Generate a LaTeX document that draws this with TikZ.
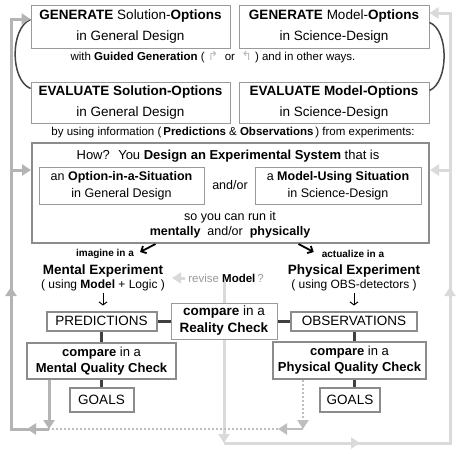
\documentclass[tikz,border=0pt]{standalone}
\usepackage{fontspec}
\setmainfont{Liberation Sans}
\newfontfamily\symfont{DejaVu Sans}
\usetikzlibrary{arrows.meta,decorations.markings}

\definecolor{boxline}{HTML}{9A9A9A}
\definecolor{thickline}{HTML}{8C8C8C}
\definecolor{joinline}{HTML}{404040}
\definecolor{loopmid}{HTML}{B4B4B4}
\definecolor{looplight}{HTML}{DADADA}
\definecolor{loopdot}{HTML}{BEBEBE}
\definecolor{curveline}{HTML}{454545}

\begin{document}
\begin{tikzpicture}[x=1pt,y=-1pt,
    txt/.style={inner sep=0pt,align=center,text=black},
    thinbox/.style={txt,draw=boxline,line width=1pt,fill=white},
    thickbox/.style={txt,draw=thickline,line width=2pt,fill=white},
    darkjoin/.style={draw=joinline,line width=3pt},
    midloop/.style={color=loopmid,line width=3pt},
    lightloop/.style={color=looplight,line width=3pt},
    dotloop/.style={color=loopdot,line width=2.5pt,dash pattern=on 2pt off 2pt},
    tri/.tip={Triangle[width=11pt,length=9pt]},
    headat/.style={postaction={decorate,decoration={markings,mark=at position #1 with {\arrow{tri}}}}},
    bigfont/.style={font=\fontsize{13.5}{21}\selectfont},
    boxfont/.style={font=\fontsize{13}{16}\selectfont},
    smallfont/.style={font=\fontsize{11.5}{14}\selectfont},
    tinyfont/.style={font=\bfseries\fontsize{10}{12}\selectfont}]

\fill[white] (0,0) rectangle (461,453);
\useasboundingbox (0,0) rectangle (461,453);

% loop points
\coordinate (lb) at (49,429);
\coordinate (ll) at (11,429);
\coordinate (lt) at (11,19);
\coordinate (lm) at (11,170);
\coordinate (rb) at (224,443);
\coordinate (rr) at (450,443);
\coordinate (rt) at (450,13);
\coordinate (rm) at (450,170);
\coordinate (db) at (303,429);
\coordinate (dm) at (278,429);

% top: generate / evaluate
\node[thinbox,bigfont,minimum width=199pt,minimum height=43pt] (gs) at (130.5,26.5)
    {\textbf{GENERATE} Solution-\textbf{Options}\\in General Design};
\node[thinbox,bigfont,minimum width=190pt,minimum height=43pt] (gm) at (334,26.5)
    {\textbf{GENERATE} Model-\textbf{Options}\\in Science-Design};
\node[txt,smallfont] (gd) at (213,57)
    {with \textbf{Guided Generation} ( {\color{gray!55}\symfont\fontsize{12.5}{14}\selectfont ↱} \ or \ {\color{gray!55}\symfont\fontsize{12.5}{14}\selectfont ↰} ) and in other ways.};
\node[thinbox,bigfont,minimum width=199pt,minimum height=41pt] (es) at (130.5,102.5)
    {\textbf{EVALUATE Solution-Options}\\in General Design};
\node[thinbox,bigfont,minimum width=190pt,minimum height=41pt] (em) at (334,102.5)
    {\textbf{EVALUATE Model-Options}\\in Science-Design};
\node[txt,smallfont] (in) at (233,133)
    {by using information (\,\textbf{Predictions} \& \textbf{Observations}\,) from experiments:};

\draw[curveline,line width=1.5pt] ([yshift=7pt]gs.west) .. controls (10,28) and (10,80) .. ([yshift=14pt]es.west);
\draw[curveline,line width=1.5pt] ([yshift=4pt]gm.east) .. controls (449,30) and (449,82) .. ([yshift=12pt]em.east);

% experimental system
\node[txt,draw=thickline,line width=2pt,minimum width=397pt,minimum height=100pt] (bx) at (230.5,193) {};
\node[txt,font=\fontsize{13}{16}\selectfont] (hw) at (228,156)
    {How? \ You \textbf{Design an Experimental System} that is};
\node[thinbox,font=\fontsize{12.5}{17}\selectfont,minimum width=165pt,minimum height=37pt] (il) at (121.5,185.5)
    {an \textbf{Option-in-a-Situation}\\in General Design};
\node[txt,font=\fontsize{12.5}{15}\selectfont] (ao) at (230,185) {and/or};
\node[thinbox,font=\fontsize{12.5}{17}\selectfont,minimum width=166pt,minimum height=37pt] (ir) at (338,185.5)
    {a \textbf{Model-Using Situation}\\in Science-Design};
\node[txt,font=\fontsize{12.5}{15}\selectfont] (rn) at (230,224.5)
    {so you can run it\\\textbf{mentally} \ and/or \ \textbf{physically}};

% mental side
\node[txt,tinyfont] (im) at (105,254) {imagine in a};
\node[txt,bigfont] (me) at (103,271) {\textbf{Mental Experiment}};
\node[txt,font=\fontsize{12}{14}\selectfont] (ml) at (103,285) {( using \textbf{Model} + Logic )};
\node[thickbox,bigfont,minimum width=110pt,minimum height=19pt] (pr) at (101.5,321) {PREDICTIONS};
\node[thickbox,boxfont,minimum width=149pt,minimum height=36pt] (mq) at (101.5,361)
    {\textbf{compare} in a\\\textbf{Mental Quality Check}};
\node[thickbox,bigfont,minimum width=64pt,minimum height=24pt] (gl) at (101.5,400) {GOALS};

% reality check
\node[thinbox,font=\fontsize{13.5}{17}\selectfont,minimum width=106pt,minimum height=36pt] (rc) at (224,321)
    {\textbf{compare} in a\\\textbf{Reality Check}};
\node[txt,smallfont,text=gray!80] (rv) at (226,278) {revise {\color{black}\textbf{Model}}\,?};

% physical side
\node[txt,tinyfont] (ac) at (353,254) {actualize in a};
\node[txt,bigfont] (pe) at (354,271) {\textbf{Physical Experiment}};
\node[txt,font=\fontsize{12}{14}\selectfont] (po) at (354,285) {( using OBS-detectors )};
\node[thickbox,bigfont,minimum width=126pt,minimum height=19pt] (ob) at (354,321) {OBSERVATIONS};
\node[thickbox,boxfont,minimum width=153pt,minimum height=37pt] (pq) at (349.5,360.5)
    {\textbf{compare} in a\\\textbf{Physical Quality Check}};
\node[thickbox,bigfont,minimum width=60pt,minimum height=24pt] (gr) at (350,400) {GOALS};

% dark joins
\draw[darkjoin] (pr.south) -- (mq.north);
\draw[darkjoin] (mq.south) -- (gl.north);
\draw[darkjoin] (pr.east) -- (rc.west);
\draw[darkjoin] (rc.east) -- (ob.west);
\draw[darkjoin] (ob.south) -- (ob.south |- pq.north);
\draw[darkjoin] (pq.south -| ob.south) -- (gr.north -| ob.south);

% black arrows
\draw[line width=1.8pt,-{Straight Barb[length=4pt,width=8pt]}] ([xshift=-75pt]bx.south) -- ([xshift=6pt,yshift=2pt]im.east);
\draw[line width=1.8pt,-{Straight Barb[length=4pt,width=8pt]}] ([xshift=68pt]bx.south) -- ([xshift=-8pt,yshift=2pt]ac.west);
\draw[line width=1pt,-{Straight Barb[length=3pt,width=8pt]},shorten <=2pt,shorten >=5pt] (ml.south) -- (ml.south |- pr.north);
\draw[line width=1pt,-{Straight Barb[length=3pt,width=8pt]},shorten <=2pt,shorten >=5pt] (po.south) -- (po.south |- ob.north);

% left loop
\draw[midloop,-tri] (mq.south -| lb) -- (lb);
\draw[midloop,-tri,line join=miter,headat=22pt,headat=180pt] (lb) -- (ll) -- (lt) -- (lt -| gs.west);
\draw[midloop,-tri] (lm) -- (lm -| bx.west);

% right loop
\draw[lightloop] (rc.north) -- (rc.north |- rv.south);
\draw[lightloop,-tri] ([xshift=-3pt]rv.west) -- ++(-13,0);
\draw[lightloop,-tri] (rc.south) -- (rb);
\draw[lightloop,-tri,line join=miter,headat=136pt,headat=382pt] (rb) -- (rr) -- (rt) -- (rt -| gm.east);
\draw[lightloop,-tri] (rm) -- (rm -| bx.east);

% dotted return
\draw[dotloop,-tri] (pq.south -| db) -- (db);
\draw[color=loopdot,line width=2.5pt,-tri] (db) -- (dm);
\draw[dotloop] (dm) -- (lb);

\end{tikzpicture}
\end{document}
